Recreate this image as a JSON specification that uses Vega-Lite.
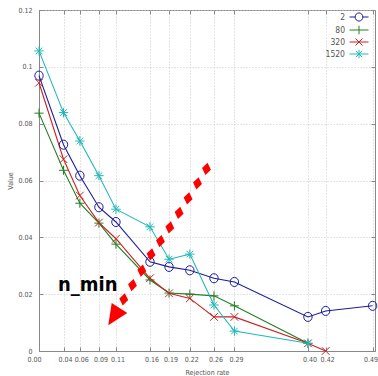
{
  "$schema": "https://vega.github.io/schema/vega-lite/v6.json",
  "width": 336,
  "height": 341,
  "autosize": "none",
  "padding": {"left": 39, "top": 10, "right": 3, "bottom": 25},
  "background": "white",
  "config": {
    "view": {"stroke": "#888", "strokeWidth": 1},
    "font": "DejaVu Sans Condensed, Liberation Sans, sans-serif",
    "axis": {
      "labelFont": "DejaVu Sans Condensed", "titleFont": "DejaVu Sans Condensed",
      "labelFontSize": 7, "labelColor": "#555", "titleFontSize": 7, "titleColor": "#555", "titleFontWeight": "normal",
      "domainColor": "#888", "tickColor": "#888", "tickSize": -4, "gridColor": "#c8c8c8", "gridDash": [1, 2], "gridWidth": 1
    },
    "legend": {
      "orient": "none", "legendX": 314.5, "legendY": 1.5, "labelFont": "DejaVu Sans Condensed", "labelFontSize": 8.5, "labelColor": "#555", "labelAlign": "right", "labelOffset": -19.5,
      "symbolStrokeWidth": 1, "rowPadding": 0, "padding": 0, "title": null
    }
  },
  "datasets": {
    "series": [
      {"rate": 0, "value": 0.0969, "series": "2"},
      {"rate": 0.036, "value": 0.0726, "series": "2"},
      {"rate": 0.06, "value": 0.0617, "series": "2"},
      {"rate": 0.088, "value": 0.0506, "series": "2"},
      {"rate": 0.113, "value": 0.0454, "series": "2"},
      {"rate": 0.163, "value": 0.0314, "series": "2"},
      {"rate": 0.191, "value": 0.0296, "series": "2"},
      {"rate": 0.2215, "value": 0.0284, "series": "2"},
      {"rate": 0.257, "value": 0.0256, "series": "2"},
      {"rate": 0.287, "value": 0.0243, "series": "2"},
      {"rate": 0.395, "value": 0.012, "series": "2"},
      {"rate": 0.421, "value": 0.0141, "series": "2"},
      {"rate": 0.49, "value": 0.0159, "series": "2"},
      {"rate": 0, "value": 0.0837, "series": "80"},
      {"rate": 0.036, "value": 0.0636, "series": "80"},
      {"rate": 0.06, "value": 0.052, "series": "80"},
      {"rate": 0.088, "value": 0.045, "series": "80"},
      {"rate": 0.113, "value": 0.0376, "series": "80"},
      {"rate": 0.163, "value": 0.025, "series": "80"},
      {"rate": 0.191, "value": 0.0204, "series": "80"},
      {"rate": 0.2215, "value": 0.02, "series": "80"},
      {"rate": 0.257, "value": 0.0194, "series": "80"},
      {"rate": 0.287, "value": 0.0159, "series": "80"},
      {"rate": 0.395, "value": 0.0027, "series": "80"},
      {"rate": 0, "value": 0.0944, "series": "320"},
      {"rate": 0.036, "value": 0.0675, "series": "320"},
      {"rate": 0.06, "value": 0.0547, "series": "320"},
      {"rate": 0.088, "value": 0.0452, "series": "320"},
      {"rate": 0.113, "value": 0.0395, "series": "320"},
      {"rate": 0.163, "value": 0.0256, "series": "320"},
      {"rate": 0.191, "value": 0.0203, "series": "320"},
      {"rate": 0.2215, "value": 0.0185, "series": "320"},
      {"rate": 0.257, "value": 0.012, "series": "320"},
      {"rate": 0.287, "value": 0.012, "series": "320"},
      {"rate": 0.395, "value": 0.0027, "series": "320"},
      {"rate": 0.421, "value": 0.0, "series": "320"},
      {"rate": 0, "value": 0.1056, "series": "1520"},
      {"rate": 0.036, "value": 0.0839, "series": "1520"},
      {"rate": 0.06, "value": 0.0739, "series": "1520"},
      {"rate": 0.088, "value": 0.0617, "series": "1520"},
      {"rate": 0.113, "value": 0.0499, "series": "1520"},
      {"rate": 0.163, "value": 0.0437, "series": "1520"},
      {"rate": 0.191, "value": 0.0323, "series": "1520"},
      {"rate": 0.2215, "value": 0.0341, "series": "1520"},
      {"rate": 0.257, "value": 0.0162, "series": "1520"},
      {"rate": 0.287, "value": 0.007, "series": "1520"},
      {"rate": 0.395, "value": 0.0027, "series": "1520"}
    ],
    "dots": [
      {"rate": 0.246, "value": 0.0641},
      {"rate": 0.2328, "value": 0.059},
      {"rate": 0.219, "value": 0.0537},
      {"rate": 0.2058, "value": 0.0486},
      {"rate": 0.1921, "value": 0.0435},
      {"rate": 0.1784, "value": 0.0387},
      {"rate": 0.1646, "value": 0.034},
      {"rate": 0.151, "value": 0.0283},
      {"rate": 0.1373, "value": 0.0232},
      {"rate": 0.1245, "value": 0.0182}
    ],
    "head": [{"rate": 0.1127, "value": 0.0131}],
    "label": [{"rate": 0.0279, "value": 0.0211, "text": "n_min"}]
  },
  "resolve": {"axis": {"x": "independent", "y": "independent"}},
  "layer": [
    {
      "data": {"name": "series"},
      "mark": {"type": "line", "strokeWidth": 1.1},
      "encoding": {
        "x": {"field": "rate", "type": "quantitative", "title": "Rejection rate",
          "scale": {"domain": [0, 0.4935], "nice": false, "zero": false},
          "axis": {"values": [0, 0.036, 0.06, 0.088, 0.113, 0.163, 0.191, 0.2215, 0.257, 0.287, 0.395, 0.421, 0.49], "format": ".2f", "labelPadding": 8.5, "titlePadding": 6, "labelFlush": false, "labelOverlap": false,
            "labelOffset": {"condition": [{"test": "datum.value == 0", "value": -5}, {"test": "datum.value > 0.48", "value": -2}], "value": 1.5}}},
        "y": {"field": "value", "type": "quantitative", "title": "Value",
          "scale": {"domain": [0, 0.12], "nice": false},
          "axis": {"values": [0, 0.02, 0.04, 0.06, 0.08, 0.1, 0.12], "labelExpr": "datum.value == 0 ? '0' : datum.value > 0.099 && datum.value < 0.101 ? '0.1' : format(datum.value, '.2f')", "labelPadding": 11, "titlePadding": 4, "labelFlush": false, "labelOverlap": false}},
        "color": {"field": "series", "type": "nominal",
          "scale": {"domain": ["2", "80", "320", "1520"], "range": ["#1c1ca0", "#238023", "#c82222", "#22b8b8"]}}
      }
    },
    {
      "data": {"name": "series"},
      "transform": [{"filter": "datum.series == '2'"}],
      "mark": {"type": "point", "filled": false, "strokeWidth": 1, "size": 49, "opacity": 1, "shape": "M1.2,0A1.2,1.3 0 1,1 -1.2,0A1.2,1.3 0 1,1 1.2,0"},
      "encoding": {
        "x": {"field": "rate", "type": "quantitative", "axis": null},
        "y": {"field": "value", "type": "quantitative", "axis": null},
        "color": {"field": "series", "type": "nominal"}
      }
    },
    {
      "data": {"name": "series"},
      "transform": [{"filter": "datum.series == '80'"}],
      "mark": {"type": "point", "filled": false, "strokeWidth": 1, "size": 49, "opacity": 1, "shape": "M-1.3,0L1.3,0M0,-1.3L0,1.3"},
      "encoding": {
        "x": {"field": "rate", "type": "quantitative", "axis": null},
        "y": {"field": "value", "type": "quantitative", "axis": null},
        "color": {"field": "series", "type": "nominal"}
      }
    },
    {
      "data": {"name": "series"},
      "transform": [{"filter": "datum.series == '320'"}],
      "mark": {"type": "point", "filled": false, "strokeWidth": 1, "size": 49, "opacity": 1, "shape": "M-1.1,-1.1L1.1,1.1M-1.1,1.1L1.1,-1.1"},
      "encoding": {
        "x": {"field": "rate", "type": "quantitative", "axis": null},
        "y": {"field": "value", "type": "quantitative", "axis": null},
        "color": {"field": "series", "type": "nominal"}
      }
    },
    {
      "data": {"name": "series"},
      "transform": [{"filter": "datum.series == '1520'"}],
      "mark": {"type": "point", "filled": false, "strokeWidth": 1, "size": 49, "opacity": 1, "shape": "M-1.35,0L1.35,0M0,-1.35L0,1.35M-0.95,-0.95L0.95,0.95M-0.95,0.95L0.95,-0.95"},
      "encoding": {
        "x": {"field": "rate", "type": "quantitative", "axis": null},
        "y": {"field": "value", "type": "quantitative", "axis": null},
        "color": {"field": "series", "type": "nominal"}
      }
    },
    {
      "data": {"name": "series"},
      "transform": [{"filter": "datum.value < 0"}],
      "mark": {"type": "point", "filled": false, "strokeWidth": 1, "size": 100, "opacity": 1},
      "encoding": {
        "x": {"field": "rate", "type": "quantitative", "axis": null},
        "y": {"field": "value", "type": "quantitative", "axis": null},
        "color": {"field": "series", "type": "nominal"},
        "shape": {"field": "series", "type": "nominal",
          "scale": {"domain": ["2", "80", "320", "1520"], "range": [
            "M-1.9,0L-0.77,0M0.77,0L1.9,0M0.77,0A0.77,0.82 0 1,1 -0.77,0A0.77,0.82 0 1,1 0.77,0",
            "M-1.9,0L1.9,0M0,-0.85L0,0.85",
            "M-1.9,0L1.9,0M-0.7,-0.7L0.7,0.7M-0.7,0.7L0.7,-0.7",
            "M-1.9,0L1.9,0M0,-0.85L0,0.85M-0.62,-0.62L0.62,0.62M-0.62,0.62L0.62,-0.62"]}}
      }
    },
    {
      "data": {"name": "dots"},
      "mark": {"type": "point", "filled": true, "color": "#ff0000", "opacity": 1, "shape": "M0,-1L0.72,0L0,1L-0.72,0Z", "size": 156, "angle": 10},
      "encoding": {
        "x": {"field": "rate", "type": "quantitative", "title": null,
          "axis": {"orient": "top", "values": [0, 0.036, 0.06, 0.088, 0.113, 0.163, 0.191, 0.2215, 0.257, 0.287, 0.395, 0.421, 0.49], "labels": false, "grid": false, "domain": false}},
        "y": {"field": "value", "type": "quantitative", "title": null,
          "axis": {"orient": "right", "values": [0, 0.02, 0.04, 0.06, 0.08, 0.1, 0.12], "labels": false, "grid": false, "domain": false}}
      }
    },
    {
      "data": {"name": "head"},
      "mark": {"type": "point", "filled": true, "color": "#ff0000", "opacity": 1, "shape": "M-0.93,-0.69L0.93,-0.69L0,1.37Z", "size": 400, "angle": 33},
      "encoding": {
        "x": {"field": "rate", "type": "quantitative", "axis": null},
        "y": {"field": "value", "type": "quantitative", "axis": null}
      }
    },
    {
      "data": {"name": "label"},
      "mark": {"type": "text", "align": "left", "baseline": "alphabetic", "fontSize": 20, "fontWeight": "bold", "font": "DejaVu Sans Condensed", "color": "#000"},
      "encoding": {
        "x": {"field": "rate", "type": "quantitative", "axis": null},
        "y": {"field": "value", "type": "quantitative", "axis": null},
        "text": {"field": "text", "type": "nominal"}
      }
    }
  ]
}
